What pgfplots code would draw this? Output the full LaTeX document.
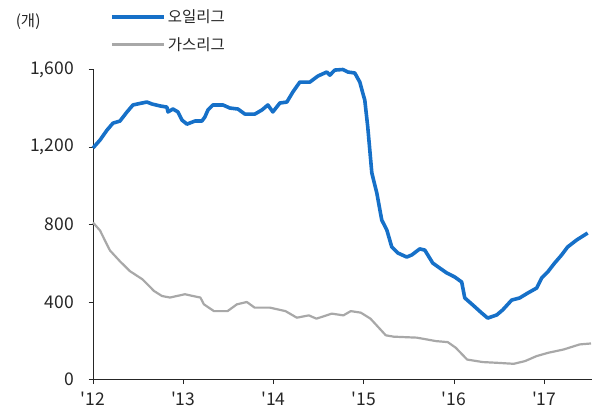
\documentclass[border=0pt]{standalone}
\usepackage{fontspec}
\setmainfont{Noto Sans CJK KR}
\usepackage{pgfplots}
\pgfplotsset{compat=1.18}
\definecolor{oilblue}{HTML}{1670C8}
\definecolor{gasgray}{HTML}{A8A8A8}
\definecolor{txt}{HTML}{262626}

\begin{document}
\begin{tikzpicture}
  % page frame, 603 x 412 bp
  \path (-93bp,-32.5bp) rectangle (510bp,379.5bp);
  \begin{axis}[
      at={(0,0)}, anchor=south west,
      scale only axis, width=499bp, height=310bp,
      xmin=2012, xmax=2017.53, ymin=0, ymax=1600,
      axis x line=bottom, axis y line=left,
      axis line style={-, black!85, line width=0.75bp},
      xtick={2012,2013,2014,2015,2016,2017},
      xticklabels={\textquotesingle12,\textquotesingle13,\textquotesingle14,
        \textquotesingle15,\textquotesingle16,\textquotesingle17},
      ytick={0,400,800,1200,1600},
      tick align=outside, major tick length=4.5bp,
      tick style={black!85, line width=0.75bp},
      /pgf/number format/assume math mode=true,
      ticklabel style={font=\fontsize{17.5bp}{20bp}\selectfont, text=txt},
      yticklabel style={xshift=-11bp},
      xticklabel style={yshift=-4bp},
      clip=false,
      legend style={draw=none, fill=none, at={(0.028,1.205)}, anchor=north west,
        font=\fontsize{15.5bp}{18bp}\selectfont, text=txt, row sep=9bp,
        legend cell align=left},
      legend image code/.code={\draw[#1] (0bp,0bp) -- (52bp,0bp);},
    ]
    \addplot[oilblue, line width=3.6bp, line join=round] coordinates {
      (2012.000,1195) (2012.078,1236) (2012.155,1287) (2012.221,1323) (2012.299,1334)
      (2012.377,1381) (2012.443,1417) (2012.543,1427) (2012.598,1432) (2012.653,1422)
      (2012.742,1412) (2012.819,1406) (2012.831,1381) (2012.886,1396) (2012.941,1381)
      (2012.986,1339) (2013.041,1318) (2013.130,1334) (2013.207,1334) (2013.240,1355)
      (2013.274,1391) (2013.329,1417) (2013.440,1417) (2013.517,1401) (2013.606,1396)
      (2013.683,1370) (2013.794,1370) (2013.872,1391) (2013.938,1417) (2013.993,1381)
      (2014.071,1427) (2014.148,1432) (2014.215,1484) (2014.292,1535) (2014.403,1535)
      (2014.492,1566) (2014.591,1587) (2014.625,1571) (2014.680,1597) (2014.769,1600)
      (2014.824,1587) (2014.901,1582) (2014.957,1535) (2014.990,1478) (2015.012,1442)
      (2015.045,1303) (2015.090,1066) (2015.145,963) (2015.200,823) (2015.256,772)
      (2015.311,684) (2015.378,653) (2015.477,632) (2015.533,643) (2015.621,674)
      (2015.677,668) (2015.765,601) (2015.843,575) (2015.920,550) (2016.009,529)
      (2016.086,503) (2016.120,421) (2016.208,385) (2016.308,343) (2016.374,317)
      (2016.474,333) (2016.540,359) (2016.640,410) (2016.729,421) (2016.817,446)
      (2016.917,472) (2016.972,524) (2017.039,555) (2017.116,601) (2017.194,643)
      (2017.260,684) (2017.360,720) (2017.482,756)
    };
    \addlegendentry{오일리그}
    \addplot[gasgray, line width=2.2bp, line join=round] coordinates {
      (2012.000,810) (2012.078,769) (2012.133,717) (2012.188,666) (2012.299,610)
      (2012.410,559) (2012.548,517) (2012.676,457) (2012.764,431) (2012.853,423)
      (2012.930,431) (2013.019,440) (2013.107,431) (2013.190,423) (2013.229,388)
      (2013.340,353) (2013.491,353) (2013.595,388) (2013.705,400) (2013.791,371)
      (2013.960,371) (2014.133,353) (2014.259,319) (2014.392,331) (2014.476,314)
      (2014.647,340) (2014.775,331) (2014.857,353) (2014.968,345) (2015.075,314)
      (2015.245,228) (2015.333,221) (2015.588,216) (2015.804,198) (2015.931,193)
      (2016.020,164) (2016.146,103) (2016.319,90) (2016.485,86) (2016.663,81)
      (2016.788,95) (2016.917,121) (2017.046,138) (2017.216,155) (2017.393,181)
      (2017.519,186)
    };
    \addlegendentry{가스리그}
    \node[font=\fontsize{15.5bp}{18bp}\selectfont, text=txt, anchor=center]
      at (rel axis cs:-0.13,1.155) {(개)};
  \end{axis}
\end{tikzpicture}
\end{document}
